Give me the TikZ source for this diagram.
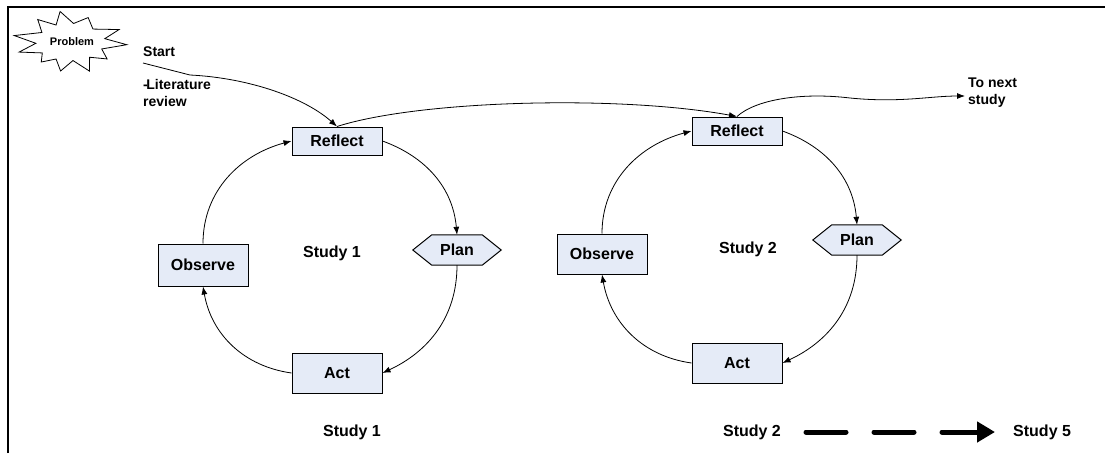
\documentclass[tikz,border=0pt]{standalone}
\usepackage{fontspec}
\setmainfont{Liberation Sans}
\usetikzlibrary{arrows.meta,backgrounds}
\definecolor{boxfill}{RGB}{229,235,247}

\begin{document}
\begin{tikzpicture}[x=1pt,y=-1pt,
  box/.style={draw=black, line width=1pt, fill=boxfill, minimum width=90pt,
    minimum height=28pt, inner sep=0pt, font=\fontsize{16}{19}\selectfont\bfseries},
  hexnode/.style={minimum width=88pt, minimum height=30pt, inner sep=0pt,
    font=\fontsize{16}{19}\selectfont\bfseries},
  hexline/.style={draw=black, line width=1pt, fill=boxfill},
  label/.style={inner sep=0pt, font=\fontsize{16}{19}\selectfont\bfseries},
  note/.style={inner sep=0pt, align=left, font=\fontsize{14}{17}\selectfont\bfseries},
  conn/.style={line width=0.8pt, -{Latex[length=8pt,width=6pt]}},
  bigarrow/.style={line width=5pt, line cap=round, dash pattern=on 40pt off 28pt,
    -{Triangle[length=18pt,width=20pt]}}]
\useasboundingbox (0,0) rectangle (1105,453);

% frame
\draw[line width=2pt] (8,453) -- (8,7) -- (1105,7);

% problem burst
\begin{scope}[shift={(70,42)}, x=57pt, y=31pt]
  \draw[line width=0.8pt, fill=white]
    (168:1) -- (148:.58) -- (128:.92) -- (114:.6) -- (100:1) -- (84:.6)
    -- (68:.85) -- (46:.58) -- (25:.95) -- (10:.62) -- (-5:1) -- (-22:.6)
    -- (-40:.85) -- (-55:.6) -- (-70:1) -- (-85:.6) -- (-100:.95) -- (-114:.6)
    -- (-128:.82) -- (-144:.6) -- (-160:.95) -- (-176:.6) -- cycle;
\end{scope}
\node[inner sep=0pt, font=\fontsize{11}{13}\selectfont\bfseries] (prob) at (72,42) {Problem};

% side notes
\node[note, anchor=west] (start) at (143,52) {Start};
\node[note, anchor=north west] (lit) at (143,79) {-\kern-1.5pt Literature\\review};
\node[note, anchor=north west] (next) at (968,78) {To next\\study};

% study 1 cycle
\node[box] (r1) at (337,141) {Reflect};
\node[hexnode] (p1) at (457,250) {Plan};
\node[box, minimum height=42pt] (o1) at (203,265) {Observe};
\node[box, minimum height=40pt] (a1) at (337,373) {Act};
\node[label] (s1) at (332,253) {Study 1};

% study 2 cycle
\node[box] (r2) at (737,131) {Reflect};
\node[hexnode] (p2) at (857,240) {Plan};
\node[box, minimum height=40pt] (o2) at (602,254) {Observe};
\node[box, minimum height=40pt] (a2) at (737,363) {Act};
\node[label] (s2) at (748,249) {Study 2};

% hexagon outlines behind the Plan labels
\begin{scope}[on background layer]
  \foreach \h in {p1,p2}{
    \draw[hexline] (\h.west) -- ([xshift=19pt]\h.north west) -- ([xshift=-19pt]\h.north east)
      -- (\h.east) -- ([xshift=-19pt]\h.south east) -- ([xshift=19pt]\h.south west) -- cycle;
  }
\end{scope}

% bottom row
\node[label] (b1) at (352,432) {Study 1};
\node[label] (b2) at (752,432) {Study 2};
\node[label, anchor=west] (b5) at (1013,432) {Study 5};
\coordinate (d0) at (806,432);
\coordinate (d1) at (995,432);
\draw[bigarrow] (d0) -- (d1);

% entry line and links between studies
\coordinate (st0) at (143,63);
\coordinate (st1) at (190,75);
\coordinate (nx) at (965,96);
\draw[conn] (st0) -- (st1) .. controls (250,78) and (305,98) .. (r1.north);
\draw[conn] (r1.north) .. controls (420,100) and (620,95) .. (r2.north);
\draw[conn] (r2.north) .. controls (755,100) and (800,92) .. (850,98)
  .. controls (900,103) and (930,96) .. (nx);

% cycle arrows
\foreach \r/\p/\a/\o in {r1/p1/a1/o1, r2/p2/a2/o2}{
  \draw[conn] (\r.east) to[out=-20,in=95] (\p.north);
  \draw[conn] (\p.south) to[out=-90,in=25] (\a.east);
  \draw[conn] (\a.west) to[out=172,in=-80] (\o.south);
  \draw[conn] (\o.north) to[out=90,in=195] (\r.west);
}
\end{tikzpicture}
\end{document}
